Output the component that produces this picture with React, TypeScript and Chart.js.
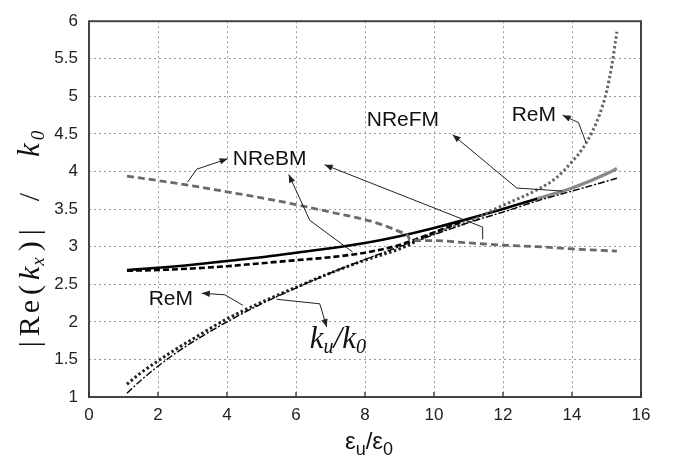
import React, { useEffect, useRef } from 'react';
import { Chart, registerables } from 'chart.js';
Chart.register(...registerables);

// ---- data ----
const xTicks = [0, 2, 4, 6, 8, 10, 12, 14, 16];
const yTicks = [1, 1.5, 2, 2.5, 3, 3.5, 4, 4.5, 5, 5.5, 6];

const nrefmX = [1.1, 2, 3, 4, 5, 6, 7, 8, 9, 10, 11, 12, 13, 14, 15, 15.3];
const nrefmY = [2.69, 2.72, 2.76, 2.81, 2.86, 2.92, 2.98, 3.05, 3.14, 3.25, 3.37, 3.5, 3.64, 3.78, 3.97, 4.04];

const nrebmLowX = [1.1, 2, 3, 4, 5, 6, 7, 8, 8.9, 9.3, 10, 10.8];
const nrebmLowY = [2.68, 2.69, 2.71, 2.74, 2.78, 2.82, 2.86, 2.92, 3.01, 3.07, 3.19, 3.33];

const nrebmHighX = [1.1, 2, 3, 4, 5, 6, 7, 8, 8.5, 9, 9.25, 9.3, 10, 11, 12, 13, 14, 15.3];
const nrebmHighY = [3.94, 3.88, 3.81, 3.73, 3.65, 3.56, 3.46, 3.36, 3.29, 3.2, 3.14, 3.09, 3.08, 3.05, 3.02, 3.0, 2.97, 2.94];

const remX = [1.1, 1.5, 2, 2.5, 3, 4, 5, 6, 7, 8, 9, 10, 11, 12, 12.5, 13, 13.5, 14, 14.3, 14.6, 14.8, 15, 15.15, 15.25, 15.3];
const remY = [1.17, 1.32, 1.48, 1.63, 1.77, 2.04, 2.26, 2.46, 2.65, 2.82, 2.97, 3.18, 3.33, 3.55, 3.65, 3.76, 3.9, 4.13, 4.3, 4.54, 4.76, 5.06, 5.4, 5.7, 5.86];

const kuX = [1.1, 1.5, 2, 2.5, 3, 4, 5, 6, 7, 8, 9, 10, 11, 12, 13, 14, 15, 15.3];
const kuY = [1.05, 1.22, 1.41, 1.58, 1.73, 2.0, 2.24, 2.45, 2.65, 2.83, 3.0, 3.16, 3.32, 3.46, 3.61, 3.74, 3.87, 3.91];

// annotation labels (data coords: left, baseline) and arrows (data coords, last point = head)
const labels = [
  { text: 'NReBM', x: 4.17, y: 4.09 },
  { text: 'NReFM', x: 8.05, y: 4.61 },
  { text: 'ReM', x: 12.25, y: 4.67 },
  { text: 'ReM', x: 1.73, y: 2.22 },
];
const kuLabelPos = { x: 6.4, y: 1.65 };
const arrows = [
  [[2.86, 3.86], [3.12, 4.03], [4.02, 4.17]],
  [[7.64, 2.93], [6.4, 3.35], [5.79, 3.96]],
  [[11.41, 3.1], [11.41, 3.26], [6.83, 4.09]],
  [[13.73, 3.74], [12.4, 3.78], [10.54, 4.49]],
  [[14.4, 4.39], [14.19, 4.65], [13.73, 4.75]],
  [[4.46, 2.22], [3.94, 2.36], [3.27, 2.38]],
  [[5.44, 2.3], [6.69, 2.24], [6.89, 1.93]],
];

const zip = (xs: number[], ys: number[]) => xs.map((x, i) => ({ x, y: ys[i] }));

const SANS = '"Liberation Sans", Arial, sans-serif';
const SERIF = '"Liberation Serif", "Times New Roman", serif';

type Part = { t: string; font: string; dy?: number; gap?: number };
function drawParts(ctx: CanvasRenderingContext2D, parts: Part[], x: number, y: number, align: 'left' | 'center') {
  let w = 0;
  parts.forEach((p, i) => {
    ctx.font = p.font;
    w += ctx.measureText(p.t).width + (i < parts.length - 1 ? p.gap || 0 : 0);
  });
  let cx = align === 'center' ? x - w / 2 : x;
  ctx.textAlign = 'left';
  ctx.textBaseline = 'alphabetic';
  for (const p of parts) {
    ctx.font = p.font;
    ctx.fillText(p.t, cx, y + (p.dy || 0));
    cx += ctx.measureText(p.t).width + (p.gap || 0);
  }
}

const overlay = {
  id: 'overlay',
  afterDatasetsDraw(chart: any) {
    const { ctx, chartArea: ca, scales } = chart;
    const sx = scales.x, sy = scales.y;
    const px = (v: number) => sx.getPixelForValue(v);
    const py = (v: number) => sy.getPixelForValue(v);
    ctx.save();
    ctx.setLineDash([]);
    // frame
    ctx.strokeStyle = '#444';
    ctx.lineWidth = 2;
    ctx.strokeRect(ca.left, ca.top, ca.right - ca.left, ca.bottom - ca.top);
    // inner x tick marks
    ctx.lineWidth = 1.3;
    ctx.strokeStyle = '#333';
    for (const t of xTicks) {
      ctx.beginPath();
      ctx.moveTo(px(t), ca.bottom);
      ctx.lineTo(px(t), ca.bottom - 5);
      ctx.stroke();
    }
    // arrows
    ctx.strokeStyle = '#222';
    ctx.fillStyle = '#222';
    ctx.lineWidth = 1;
    for (const a of arrows) {
      const pts = a.map(([x, y]) => [px(x), py(y)]);
      ctx.beginPath();
      pts.forEach(([x, y], i) => (i ? ctx.lineTo(x, y) : ctx.moveTo(x, y)));
      ctx.stroke();
      const [hx, hy] = pts[pts.length - 1];
      const [bx, by] = pts[pts.length - 2];
      const ang = Math.atan2(hy - by, hx - bx);
      const L = 8, W = 3.2;
      ctx.beginPath();
      ctx.moveTo(hx, hy);
      ctx.lineTo(hx - L * Math.cos(ang) + W * Math.sin(ang), hy - L * Math.sin(ang) - W * Math.cos(ang));
      ctx.lineTo(hx - L * Math.cos(ang) - W * Math.sin(ang), hy - L * Math.sin(ang) + W * Math.cos(ang));
      ctx.closePath();
      ctx.fill();
    }
    // labels
    ctx.fillStyle = '#111';
    for (const l of labels) {
      drawParts(ctx, [{ t: l.text, font: `21px ${SANS}` }], px(l.x), py(l.y), 'left');
    }
    drawParts(ctx, [
      { t: 'k', font: `italic 31px ${SERIF}` },
      { t: 'u', font: `italic 20px ${SERIF}`, dy: 5 },
      { t: '/', font: `italic 31px ${SERIF}` },
      { t: 'k', font: `italic 31px ${SERIF}` },
      { t: '0', font: `italic 20px ${SERIF}`, dy: 5 },
    ], px(kuLabelPos.x), py(kuLabelPos.y), 'left');
    ctx.restore();
  },
  afterDraw(chart: any) {
    const { ctx, chartArea: ca } = chart;
    ctx.save();
    ctx.fillStyle = '#111';
    // x axis title
    drawParts(ctx, [
      { t: 'ε', font: `24px ${SANS}` },
      { t: 'u', font: `18px ${SANS}`, dy: 6 },
      { t: '/', font: `24px ${SANS}` },
      { t: 'ε', font: `24px ${SANS}` },
      { t: '0', font: `18px ${SANS}`, dy: 6 },
    ], (ca.left + ca.right) / 2 + 4, 449, 'center');
    // y axis title
    ctx.translate(39, 239);
    ctx.rotate(-Math.PI / 2);
    const F = `30px ${SERIF}`, FI = `italic 30px ${SERIF}`, FK = `italic 31px ${SERIF}`, FS = `italic 19px ${SERIF}`;
    drawParts(ctx, [
      { t: '|', font: F, gap: 5 },
      { t: 'R', font: F, gap: 3 },
      { t: 'e', font: F, gap: 5 },
      { t: '(', font: F, gap: 5 },
      { t: 'k', font: FI, gap: 1 },
      { t: 'x', font: FS, dy: 5, gap: 6 },
      { t: ')', font: F, gap: 6 },
      { t: '|', font: F, gap: 28 },
      { t: '/', font: F, gap: 36 },
      { t: 'k', font: FK, gap: 3 },
      { t: '0', font: FS, dy: 5 },
    ], 0, 0, 'center');
    ctx.restore();
  },
};

export default function App() {
  const ref = useRef<HTMLCanvasElement | null>(null);
  useEffect(() => {
    if (!ref.current) return;
    const tickFont = { family: SANS, size: 17 };
    const chart = new Chart(ref.current, {
      type: 'line',
      data: {
        datasets: [
          {
            label: 'NReBM high',
            data: zip(nrebmHighX, nrebmHighY),
            borderColor: '#6a6a6a',
            borderWidth: 2.8,
            borderDash: [7, 4],
            pointRadius: 0,
            cubicInterpolationMode: 'monotone',
          },
          {
            label: 'NReBM low',
            data: zip(nrebmLowX, nrebmLowY),
            borderColor: '#000',
            borderWidth: 2.6,
            borderDash: [6, 3],
            pointRadius: 0,
            cubicInterpolationMode: 'monotone',
          },
          {
            label: 'ku/k0',
            data: zip(kuX, kuY),
            borderColor: '#000',
            borderWidth: 1.4,
            borderDash: [7, 2, 2, 2],
            pointRadius: 0,
            cubicInterpolationMode: 'monotone',
          },
          {
            label: 'ReM',
            data: zip(remX, remY),
            borderColor: '#333',
            borderWidth: 3,
            borderDash: [2.5, 2.5],
            borderCapStyle: 'butt',
            pointRadius: 0,
            cubicInterpolationMode: 'monotone',
            segment: {
              borderColor: (c: any) => (c.p0.parsed.x >= 10 ? '#666' : '#222'),
            },
          },
          {
            label: 'NReFM',
            data: zip(nrefmX, nrefmY),
            borderColor: '#000',
            borderWidth: 2.6,
            pointRadius: 0,
            cubicInterpolationMode: 'monotone',
            segment: {
              borderColor: (c: any) => (c.p0.parsed.x >= 13 ? '#888' : '#000'),
              borderWidth: (c: any) => (c.p0.parsed.x >= 13 ? 3.2 : 2.6),
            },
          },
        ] as any,
      },
      options: {
        responsive: false,
        animation: false,
        layout: { padding: { top: 10, right: 33, left: 0, bottom: 0 } },
        plugins: { legend: { display: false }, tooltip: { enabled: false } },
        scales: {
          x: {
            type: 'linear',
            min: 0,
            max: 16,
            afterBuildTicks: (s: any) => { s.ticks = xTicks.map((v) => ({ value: v })); },
            afterFit: (s: any) => { s.height = 69; },
            grid: { color: '#999', lineWidth: 1, drawTicks: false },
            border: { display: false, dash: [2, 3] },
            ticks: { padding: 8, font: tickFont, color: '#222', maxRotation: 0, callback: (v: any) => String(v) },
          },
          y: {
            type: 'linear',
            min: 1,
            max: 6,
            afterBuildTicks: (s: any) => { s.ticks = yTicks.map((v) => ({ value: v })); },
            afterFit: (s: any) => { s.width = 89; },
            grid: { color: '#999', lineWidth: 1, drawTicks: false },
            border: { display: false, dash: [2, 3] },
            ticks: { padding: 11, font: tickFont, color: '#222', callback: (v: any) => String(v) },
          },
        },
      } as any,
      plugins: [overlay],
    });
    return () => chart.destroy();
  }, []);
  return (
    <div style={{ position: 'fixed', left: 0, top: 0, width: 674, height: 466, background: '#fff' }}>
      <canvas ref={ref} width={674} height={466} style={{ width: 674, height: 466, display: 'block' }} />
    </div>
  );
}
